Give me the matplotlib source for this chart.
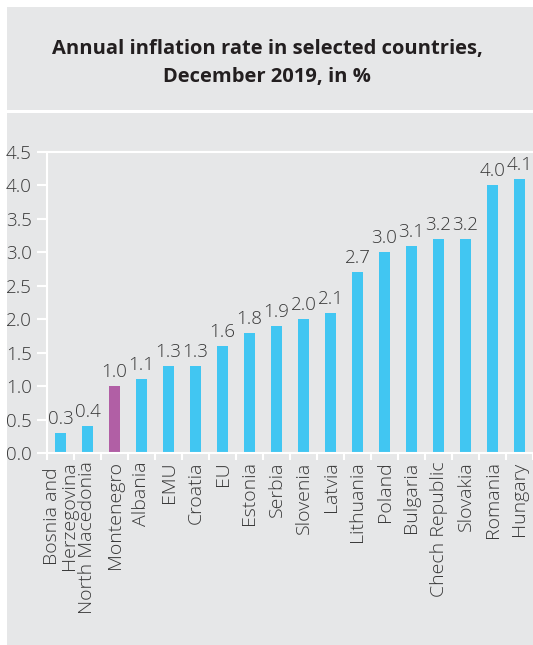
import matplotlib
matplotlib.use("Agg")
import matplotlib.pyplot as plt
from matplotlib.patches import Rectangle

countries = ["Bosnia and\nHerzegovina", "North Macedonia", "Montenegro", "Albania", "EMU",
             "Croatia", "EU", "Estonia", "Serbia", "Slovenia", "Latvia", "Lithuania",
             "Poland", "Bulgaria", "Chech Republic", "Slovakia", "Romania", "Hungary"]
values = [0.3, 0.4, 1.0, 1.1, 1.3, 1.3, 1.6, 1.8, 1.9, 2.0, 2.1, 2.7, 3.0, 3.1, 3.2, 3.2, 4.0, 4.1]
highlight = "Montenegro"
yticks = [0.0, 0.5, 1.0, 1.5, 2.0, 2.5, 3.0, 3.5, 4.0, 4.5]
title = "Annual inflation rate in selected countries,\nDecember 2019, in %"

BLUE = "#41c6f2"
PURPLE = "#b15fa5"
GRAY = "#e6e7e8"
TXT = "#383838"

plt.rcParams['font.family'] = ['Open Sans', 'DejaVu Sans']

W, H = 533, 645
fig = plt.figure(figsize=(W / 100, H / 100), dpi=100)
fig.patch.set_facecolor("white")

# panels
fig.add_artist(Rectangle((7 / W, 1 - 110 / H), 1 - 7 / W, 103 / H, transform=fig.transFigure,
                         facecolor=GRAY, edgecolor="none", zorder=0))
fig.add_artist(Rectangle((7 / W, 0), 1 - 7 / W, 1 - 113 / H, transform=fig.transFigure,
                         facecolor=GRAY, edgecolor="none", zorder=0))

fig.text(267 / W, 1 - 63 / H, title, ha="center", va="center", fontsize=14.5,
         fontweight="bold", color="#231f20", linespacing=1.5)

ax = fig.add_axes([47 / W, (H - 453) / H, (533 - 47) / W, (453 - 152) / H])
ax.set_facecolor("none")
x = list(range(len(countries)))
colors = [PURPLE if c == highlight else BLUE for c in countries]
ax.bar(x, values, width=0.4, color=colors, zorder=2)
for xi, v in zip(x, values):
    ax.annotate(f"{v:.1f}", (xi, v), xytext=(0, 6.5), textcoords="offset points",
                ha="center", va="baseline", fontsize=13.5, color=TXT, fontweight="light")

ax.set_xlim(-0.5, len(countries) - 0.5)
ax.set_ylim(0, 4.5)
ax.set_yticks(yticks)
ax.set_yticklabels([f"{t:.1f}" for t in yticks])
ax.set_xticks(x)
ax.set_xticklabels(countries, rotation=90, va="top", ha="center", linespacing=0.95)
ax.set_xticks([i - 0.5 for i in range(len(countries) + 1)], minor=True)
ax.tick_params(axis="x", which="major", length=0, pad=6, labelsize=14, labelcolor=TXT)
ax.tick_params(axis="x", which="minor", length=5, width=1.5, color="white", direction="out")
ax.tick_params(axis="y", length=7, width=1.5, color="white", labelsize=13.5, labelcolor=TXT, pad=4)
for lbl in ax.get_xticklabels() + ax.get_yticklabels():
    lbl.set_fontweight("light")
for s in ["left", "bottom", "top"]:
    ax.spines[s].set_color("white")
    ax.spines[s].set_linewidth(1.5)
ax.spines["right"].set_visible(False)

fig.savefig("out.png", dpi=100, facecolor="white")
